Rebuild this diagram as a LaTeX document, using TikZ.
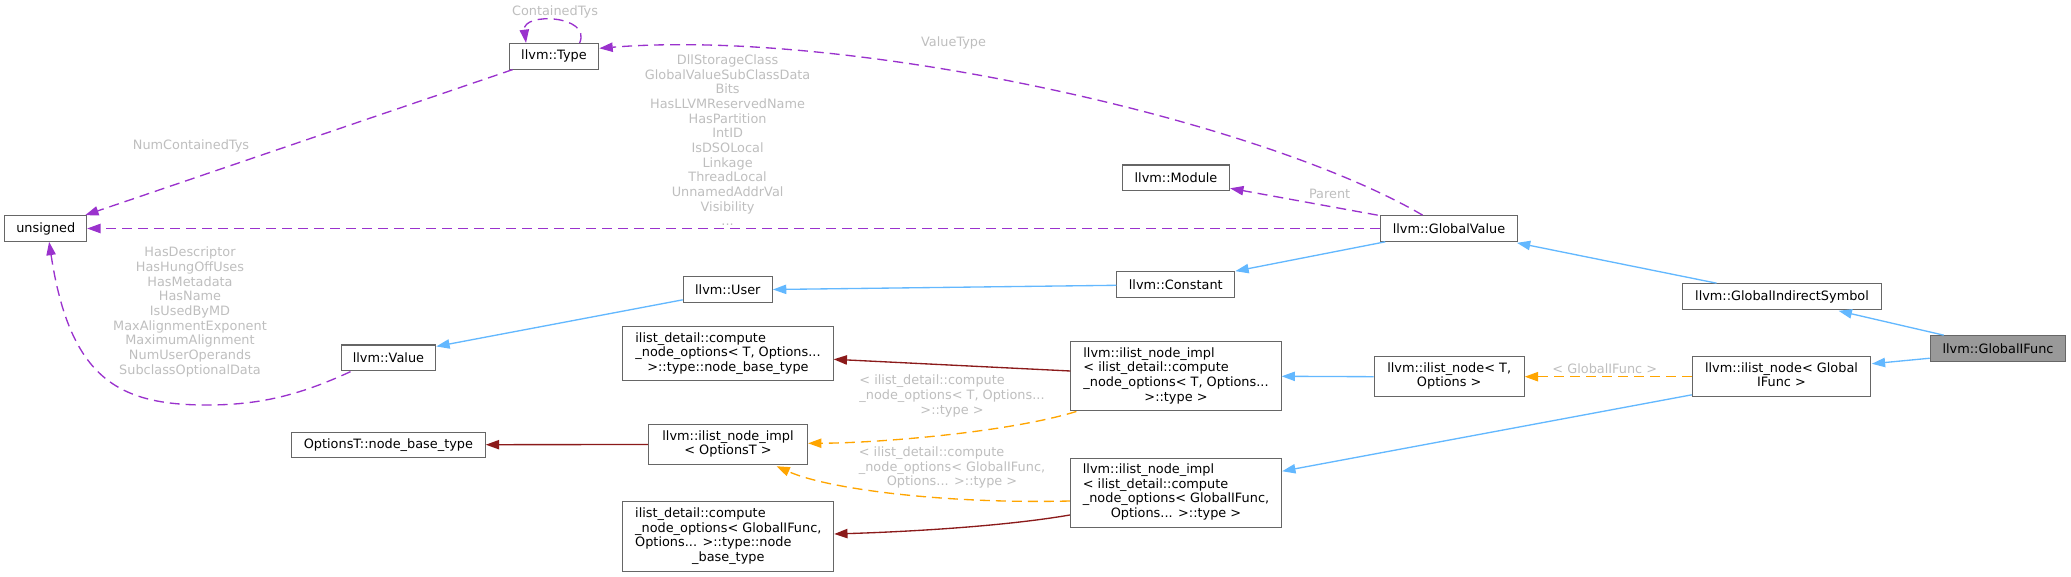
\documentclass[tikz,border=0pt]{standalone}
\usepackage{fontspec}
\setmainfont{DejaVu Sans}
\usetikzlibrary{arrows.meta,calc}
\definecolor{cblue}{HTML}{63B8FF}
\definecolor{cred}{HTML}{8B1A1A}
\definecolor{corange}{HTML}{FFA500}
\definecolor{cpurple}{HTML}{9A32CD}
\definecolor{cborder}{HTML}{666666}
\definecolor{cfill}{HTML}{999999}
\definecolor{clabel}{HTML}{BEBEBE}
\newcommand{\ml}[1]{\begin{tabular}{@{}l@{}}#1\end{tabular}}
\newcommand{\cl}[1]{\multicolumn{1}{@{}c@{}}{#1}}
\begin{document}
\begin{tikzpicture}[x=0.75pt,y=-0.75pt,
  txt/.style={font=\fontsize{9.65}{11}\selectfont},
  box/.style={txt, draw=cborder, fill=white, line width=0.8pt, inner sep=0pt, rectangle},
  cur/.style={box, fill=cfill},
  wh/.style 2 args={minimum width={#1*0.75pt}, minimum height={#2*0.75pt}},
  lbl/.style={txt, text=clabel, inner sep=0pt, align=center},
  dsh/.style={dash pattern=on 7.5pt off 4.5pt},
  inh/.style={draw=cblue, line width=1pt, -{Triangle[length=10pt,width=7pt,fill=cblue]}},
  priv/.style={draw=cred, line width=1pt, -{Triangle[length=10pt,width=7pt,fill=cred]}},
  tmpl/.style={draw=corange, line width=1pt, dsh, -{Triangle[length=10pt,width=7pt,fill=corange]}},
  usage/.style={draw=cpurple, line width=1pt, dsh, -{Triangle[length=10pt,width=7pt,fill=cpurple]}}
]
\useasboundingbox (0,0) rectangle (2071,577);

% nodes
\node[cur, wh={135.5}{25.6}] (gif) at (1998,348.5) {llvm::GlobalIFunc};
\node[box, wh={199}{25.6}] (gis) at (1782,296.5) {llvm::GlobalIndirectSymbol};
\node[box, wh={137.7}{25.6}] (gv) at (1449,228.5) {llvm::GlobalValue};
\node[box, wh={118}{25.6}] (const) at (1175.8,284.5) {llvm::Constant};
\node[box, wh={89.2}{25.6}] (user) at (727.8,289.5) {llvm::User};
\node[box, wh={94.7}{25.6}] (value) at (388.4,357.8) {llvm::Value};
\node[box, wh={81.7}{25.6}] (uns) at (45.8,228.5) {unsigned};
\node[box, wh={89.7}{25.6}] (type) at (554,56.3) {llvm::Type};
\node[box, wh={107.2}{25.6}] (module) at (1176,177.8) {llvm::Module};
\node[box, wh={178.5}{40}] (ilnG) at (1781.5,376.7) {\ml{\cl{llvm::ilist\_node< Global}\\ \cl{IFunc >}}};
\node[box, wh={150}{40}] (ilnT) at (1449.2,376.7) {\ml{\cl{llvm::ilist\_node< T,}\\ \cl{Options >}}};
\node[box, wh={210.2}{69.3}] (implT) at (1176,376.3) {\ml{llvm::ilist\_node\_impl\\ < ilist\_detail::compute\\ \_node\_options< T, Options...\\ \cl{>::type >}}};
\node[box, wh={211.2}{69.3}] (implG) at (1176,492.7) {\ml{llvm::ilist\_node\_impl\\ < ilist\_detail::compute\\ \_node\_options< GlobalIFunc,\\ \cl{Options... >::type >}}};
\node[box, wh={159.2}{39.6}] (implO) at (728,444.5) {\ml{llvm::ilist\_node\_impl\\ \cl{< OptionsT >}}};
\node[box, wh={210.2}{54.3}] (baseT) at (728,353.8) {\ml{ilist\_detail::compute\\ \_node\_options< T, Options...\\ \cl{>::type::node\_base\_type}}};
\node[box, wh={210.7}{70}] (baseG) at (728.3,536.7) {\ml{ilist\_detail::compute\\ \_node\_options< GlobalIFunc,\\ Options... >::type::node\\ \cl{\_base\_type}}};
\node[box, wh={193.8}{25.3}] (optb) at (388.4,444.7) {OptionsT::node\_base\_type};

% labels
\node[lbl] (lCT) at (555,12) {ContainedTys};
\node[lbl] (lNCT) at (191,145.7) {NumContainedTys};
\node[lbl] (lVT) at (953.6,42.7) {ValueType};
\node[lbl] (lPar) at (1329.6,194.3) {Parent};
\node[lbl] (lGV) at (727.6,140.2) {DllStorageClass\\GlobalValueSubClassData\\Bits\\HasLLVMReservedName\\HasPartition\\IntID\\IsDSOLocal\\Linkage\\ThreadLocal\\UnnamedAddrVal\\Visibility\\...};
\node[lbl] (lVal) at (190,312) {HasDescriptor\\HasHungOffUses\\HasMetadata\\HasName\\IsUsedByMD\\MaxAlignmentExponent\\MaximumAlignment\\NumUserOperands\\SubclassOptionalData};
\node[lbl] (lGI) at (1604.8,368.3) {< GlobalIFunc >};
\node[lbl] (lIT) at (952,396.7) {\ml{< ilist\_detail::compute\\ \_node\_options< T, Options...\\ \cl{>::type >}}};
\node[lbl] (lIG) at (952,468.3) {\ml{< ilist\_detail::compute\\ \_node\_options< GlobalIFunc,\\ \cl{Options... >::type >}}};

% inheritance (blue)
\draw[inh] ($(gif.north west)+(14,0)$) -- ($(gis.south east)+(-43.5,1)$);
\draw[inh] ($(gif.south west)+(0,-3.6)$) -- ($(ilnG.north east)+(0.5,7.6)$);
\draw[inh] ($(gis.north west)+(34.5,0)$) -- ($(gv.south east)+(-1.5,1)$);
\draw[inh] ($(gv.south west)+(5.6,0)$) -- (const.north east);
\draw[inh] ($(const.west)+(0,0.8)$) -- (user.east);
\draw[inh] ($(user.south west)+(0,-3)$) -- ($(value.north east)+(0,2)$);
\draw[inh] (ilnT.west) -- (implT.east);
\draw[inh] ($(ilnG.south west)+(0,-2.4)$) -- ($(implG.north east)+(0,13.7)$);

% private base (red)
\draw[priv] ($(implT.west)+(0,-5.3)$) -- ($(baseT.east)+(0,5.5)$);
\draw[priv] (implO.west) -- (optb.east);
\draw[priv] ($(implG.west)+(0,22.3)$) .. controls (1000,527) and (900,532) .. ($(baseG.east)+(0,-2.7)$);

% template instances (orange)
\draw[tmpl] (ilnG.west) -- (ilnT.east);
\draw[tmpl] ($(implT.south west)+(6,0)$) .. controls (1010,432) and (880,443) .. ($(implO.east)+(0,-1.2)$);
\draw[tmpl] ($(implG.west)+(0,8.3)$) .. controls (950,504) and (830,490) .. ($(implO.south east)+(-31.7,1.4)$);

% usage (purple)
\draw[usage] ($(type.north west)+(71,0)$) .. controls (592,15) and (522,12) .. ($(type.north west)+(17.4,0)$);
\draw[usage] ($(type.south west)+(4,0)$) -- ($(uns.north east)+(-2,0)$);
\draw[usage] ($(gv.north west)+(43,0)$) .. controls (1260,120) and (850,28) .. ($(type.east)+(0,-8)$);
\draw[usage] ($(gv.north west)+(-2,0)$) -- ($(module.east)+(0,10.5)$);
\draw[usage] (gv.west) -- (uns.east);
\draw[usage] ($(value.south west)+(10,0.5)$) .. controls (300,395) and (260,405) .. (207,405) .. controls (120,405) and (70,380) .. ($(uns.south)+(3.3,0)$);
\end{tikzpicture}
\end{document}
